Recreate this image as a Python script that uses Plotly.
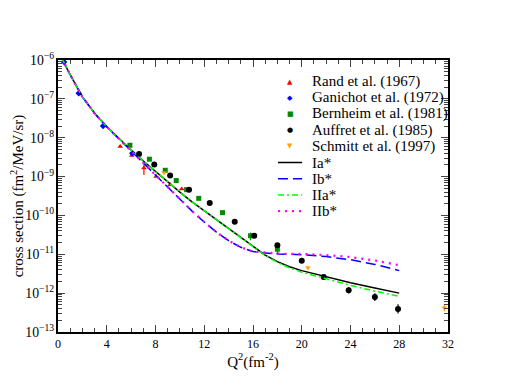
import plotly.graph_objects as go

# experimental data (Q^2 in fm^-2, cross section in fm^2/MeV/sr)
rand_x = [5.1, 6.05, 7.05, 8.05, 9.2, 10.15]
rand_y = [5.9e-9, 3.5e-9, 1.66e-9, 1.0e-9, 6.2e-10, 4.8e-10]
rand_err_up = [0, 0, 0.4e-9, 0, 0, 0]
rand_err_dn = [0, 0, 0.55e-9, 0, 0, 0]

ganichot_x = [0.5, 1.7, 3.7, 6.1]
ganichot_y = [8.9e-7, 1.4e-7, 2.0e-8, 4.0e-9]

bernheim_x = [5.9, 7.5, 8.8, 9.7, 10.55, 11.55, 13.5, 15.8, 18.0]
bernheim_y = [6.4e-9, 2.8e-9, 1.45e-9, 7.9e-10, 4.6e-10, 2.75e-10, 1.18e-10, 3.0e-11, 1.35e-11]
bernheim_err_up = [0, 0, 0, 0, 0, 0, 0, 0.6e-11, 0.4e-11]
bernheim_err_dn = [0, 0, 0, 0, 0, 0, 0, 0.7e-11, 0.33e-11]

auffret_x = [6.65, 7.9, 9.2, 10.75, 12.45, 14.5, 16.1, 18.0, 20.0, 21.8, 23.85, 26.0, 27.9]
auffret_y = [3.8e-9, 2.05e-9, 1.07e-9, 4.6e-10, 2.1e-10, 6.9e-11, 3.0e-11, 1.7e-11,
             6.8e-12, 2.6e-12, 1.18e-12, 7.9e-13, 3.9e-13]
auffret_err_up = [0] * 10 + [0.25e-12, 0.2e-12, 1.3e-13]
auffret_err_dn = [0] * 10 + [0.2e-12, 0.16e-12, 0.9e-13]

schmitt_x = [8.7, 20.5, 31.7]
schmitt_y = [1.26e-9, 4.5e-12, 4.2e-13]
schmitt_err_up = [0, 0.6e-12, 1.0e-13]
schmitt_err_dn = [0, 0.5e-12, 0.8e-13]

# model curves, read as log10 of the cross section
curve_x = [0.3, 1, 2, 3, 4, 5, 6, 7, 8, 9, 10, 11, 12, 13, 14, 15, 16, 17, 18, 19, 20, 22, 24, 26, 28]
ia_log = [-5.95, -6.38, -6.95, -7.37, -7.72, -8.03, -8.32, -8.60, -8.87, -9.13, -9.40, -9.65, -9.88,
          -10.09, -10.32, -10.55, -10.80, -11.02, -11.19, -11.32, -11.42, -11.58, -11.73, -11.87, -12.0]
ib_log = [-5.95, -6.38, -6.95, -7.37, -7.72, -8.03, -8.33, -8.63, -8.94, -9.26, -9.58, -9.89, -10.17,
          -10.43, -10.65, -10.82, -10.93, -10.97, -10.99, -11.0, -11.01, -11.06, -11.14, -11.26, -11.42]
iia_log = [-5.95, -6.38, -6.95, -7.37, -7.72, -8.03, -8.32, -8.60, -8.87, -9.13, -9.40, -9.65, -9.88,
           -10.09, -10.32, -10.55, -10.80, -11.03, -11.21, -11.35, -11.46, -11.64, -11.80, -11.95, -12.08]
iib_log = [-5.95, -6.38, -6.95, -7.37, -7.72, -8.03, -8.33, -8.63, -8.94, -9.26, -9.58, -9.89, -10.17,
           -10.43, -10.65, -10.82, -10.93, -10.96, -10.98, -10.99, -10.99, -11.02, -11.07, -11.16, -11.28]

FONT = "Liberation Serif, Times New Roman, serif"

fig = go.Figure()
legend_items = []  # (label, kind, color, style)


def add_points(name, x, y, symbol, glyph, color, up=None, dn=None, size=5):
    err = None
    if up is not None:
        err = dict(type="data", array=up, arrayminus=dn, color=color, thickness=1.2, width=0)
    fig.add_trace(go.Scatter(x=x, y=y, mode="markers", name=name, error_y=err, showlegend=False,
                             marker=dict(symbol=symbol, color=color, size=size)))
    legend_items.append((name, "marker", color, glyph))


add_points("Rand et al. (1967)", rand_x, rand_y, "triangle-up", "▲", "red", rand_err_up, rand_err_dn)
add_points("Ganichot et al. (1972)", ganichot_x, ganichot_y, "diamond", "◆", "blue")
add_points("Bernheim et al. (1981)", bernheim_x, bernheim_y, "square", "■", "#008b00",
           bernheim_err_up, bernheim_err_dn)
add_points("Auffret et al. (1985)", auffret_x, auffret_y, "circle", "●", "black",
           auffret_err_up, auffret_err_dn, size=6)
add_points("Schmitt et al. (1997)", schmitt_x, schmitt_y, "triangle-down", "▼", "orange",
           schmitt_err_up, schmitt_err_dn)

for name, logs, color, dash, w in [("Ia*", ia_log, "black", "solid", 1.5),
                                   ("Ib*", ib_log, "blue", "10px,5px", 1.5),
                                   ("IIa*", iia_log, "#00ff00", "6px,3px,2px,3px", 1.5),
                                   ("IIb*", iib_log, "magenta", "2px,5px", 2.2)]:
    fig.add_trace(go.Scatter(x=curve_x, y=[10 ** v for v in logs], mode="lines", name=name,
                             showlegend=False, line=dict(color=color, width=w, dash=dash)))
    legend_items.append((name, "line", color, (dash, w)))

# compact legend drawn in paper coordinates (plotly's own legend spaces rows too far apart)
PLOT_H = 272.0
row_top, row_step = 21.5, 16.2  # px below the top axis
text_x, glyph_x, line_x0, line_x1 = 0.646, 0.595, 0.564, 0.626
for i, (label, kind, color, style) in enumerate(legend_items):
    yy = 1 - (row_top + i * row_step) / PLOT_H
    fig.add_annotation(x=text_x, y=yy, xref="paper", yref="paper", text=label, showarrow=False,
                       xanchor="left", yanchor="middle", font=dict(family=FONT, size=15))
    if kind == "marker":
        fig.add_annotation(x=glyph_x, y=yy, xref="paper", yref="paper", text=style, showarrow=False,
                           xanchor="center", yanchor="middle",
                           font=dict(family="DejaVu Sans", size=7, color=color))
    else:
        fig.add_shape(type="line", xref="paper", yref="paper", x0=line_x0, x1=line_x1, y0=yy, y1=yy,
                      line=dict(color=color, width=style[1], dash=style[0]))

# the page puts the figure 8px in from the top-left corner
fig.update_layout(
    width=497, height=383,
    margin=dict(l=50, r=57, t=52, b=59, autoexpand=False),
    paper_bgcolor="white", plot_bgcolor="white",
    font=dict(family=FONT, size=12, color="black"),
    showlegend=False,
)
fig.update_xaxes(
    range=[0, 32], tickmode="linear", tick0=0, dtick=4, automargin=False,
    ticks="inside", ticklen=7, tickwidth=1, showline=True, linecolor="black", linewidth=1.5,
    mirror="ticks", showgrid=False, zeroline=False,
    minor=dict(ticks="inside", ticklen=4, dtick=1, tickwidth=1, showgrid=False),
    tickfont=dict(family=FONT, size=12),
    title=dict(text="Q<sup>2</sup>(fm<sup>-2</sup>)", font=dict(family=FONT, size=15), standoff=6),
)
fig.update_yaxes(
    type="log", range=[-13, -6], dtick=1, exponentformat="power", automargin=False,
    ticks="inside", ticklen=7, tickwidth=1, showline=True, linecolor="black", linewidth=1.5,
    mirror="ticks", showgrid=False, zeroline=False,
    minor=dict(ticks="inside", ticklen=4, tickwidth=1, showgrid=False),
    tickfont=dict(family=FONT, size=11),
    title=dict(text="cross section (fm<sup>2</sup>/MeV/sr)", font=dict(family=FONT, size=15), standoff=6),
)

fig.write_html("out.html")
